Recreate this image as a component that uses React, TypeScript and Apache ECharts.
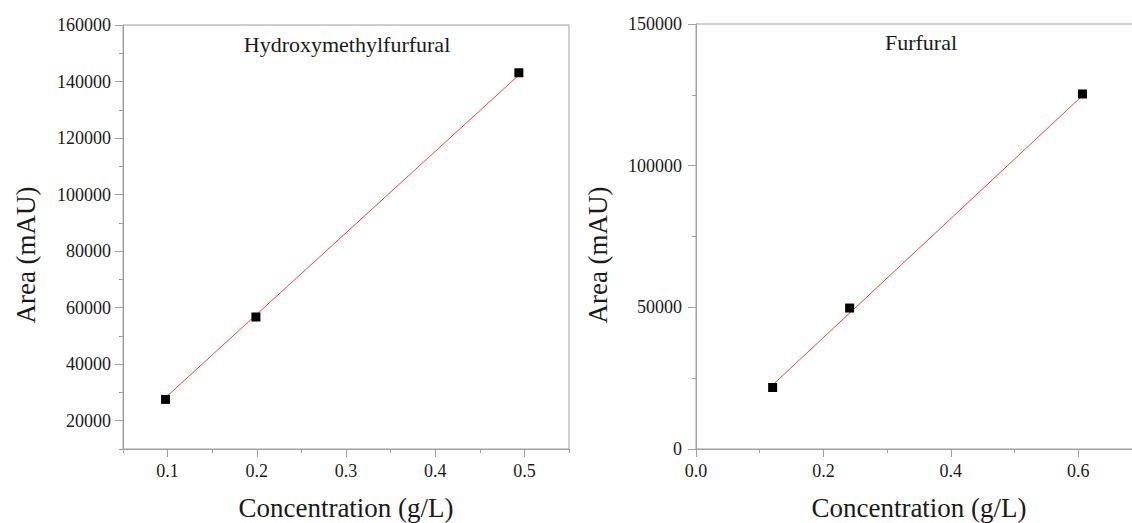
import React, { useEffect, useRef } from "react";
import * as echarts from "echarts";

// Hydroxymethylfurfural calibration
const hmfConc = [0.0977, 0.199, 0.4938];
const hmfArea = [27550, 56700, 143100];
const hmfFitConc = [0.0977, 0.4938];
const hmfFitArea = [28200, 142300];

// Furfural calibration
const furConc = [0.1203, 0.2411, 0.6065];
const furArea = [21700, 49750, 125300];
const furFitConc = [0.1203, 0.6065];
const furFitArea = [22600, 124700];

// Tick values
const hmfXMajor = [0.1, 0.2, 0.3, 0.4, 0.5];
const hmfXMinor = [0.05, 0.15, 0.25, 0.35, 0.45, 0.55];
const hmfYMajor = [20000, 40000, 60000, 80000, 100000, 120000, 140000, 160000];
const hmfYMinor = [10000, 30000, 50000, 70000, 90000, 110000, 130000, 150000];
const furXMajor = [0, 0.2, 0.4, 0.6];
const furXMinor = [0.1, 0.3, 0.5, 0.7];
const furYMajor = [0, 50000, 100000, 150000];
const furYMinor = [25000, 75000, 125000];

const FONT = "'Liberation Serif', 'Times New Roman', serif";
const AXIS_COLOR = "#a0a0a0";
const TEXT_COLOR = "#1a1a1a";

function zip(a: number[], b: number[]) {
  return a.map((v, i) => [v, b[i]]);
}

function majorX(gridIndex: number, min: number, max: number, ticks: number[], name: string) {
  return {
    type: "value",
    gridIndex,
    position: "bottom",
    min,
    max,
    name,
    nameLocation: "middle",
    nameGap: 45,
    nameTextStyle: { fontFamily: FONT, fontSize: 27, color: TEXT_COLOR },
    axisLine: { show: true, onZero: false, lineStyle: { color: AXIS_COLOR, width: 1 } },
    axisTick: { show: true, customValues: ticks, length: 8, lineStyle: { color: AXIS_COLOR } },
    axisLabel: {
      show: true,
      customValues: ticks,
      margin: 13,
      fontFamily: FONT,
      fontSize: 18,
      color: TEXT_COLOR,
      formatter: (v: number) => v.toFixed(1),
    },
    splitLine: { show: false },
  };
}

function minorX(gridIndex: number, min: number, max: number, ticks: number[]) {
  return {
    type: "value",
    gridIndex,
    position: "bottom",
    min,
    max,
    axisLine: { show: false, onZero: false },
    axisTick: { show: true, customValues: ticks, length: 4, lineStyle: { color: AXIS_COLOR } },
    axisLabel: { show: false },
    splitLine: { show: false },
  };
}

function majorY(gridIndex: number, min: number, max: number, ticks: number[], margin: number) {
  return {
    type: "value",
    gridIndex,
    position: "left",
    min,
    max,
    axisLine: { show: true, onZero: false, lineStyle: { color: AXIS_COLOR, width: 1 } },
    axisTick: { show: true, customValues: ticks, length: 8, lineStyle: { color: AXIS_COLOR } },
    axisLabel: {
      show: true,
      customValues: ticks,
      margin,
      fontFamily: FONT,
      fontSize: 18,
      color: TEXT_COLOR,
      formatter: (v: number) => String(v),
    },
    splitLine: { show: false },
  };
}

function minorY(gridIndex: number, min: number, max: number, ticks: number[]) {
  return {
    type: "value",
    gridIndex,
    position: "left",
    min,
    max,
    axisLine: { show: false, onZero: false },
    axisTick: { show: true, customValues: ticks, length: 4, lineStyle: { color: AXIS_COLOR } },
    axisLabel: { show: false },
    splitLine: { show: false },
  };
}

export default function App() {
  const ref = useRef<HTMLDivElement>(null);

  useEffect(() => {
    if (!ref.current) return;
    const chart = echarts.init(ref.current, null, { renderer: "svg" });
    const option: any = {
      animation: false,
      backgroundColor: "#ffffff",
      grid: [
        { left: 123, top: 25, width: 446, height: 424, show: true, borderColor: AXIS_COLOR, borderWidth: 1, backgroundColor: "transparent", outerBoundsMode: "none", containLabel: false },
        { left: 696, top: 24, width: 446, height: 425, show: true, borderColor: AXIS_COLOR, borderWidth: 1, backgroundColor: "transparent", outerBoundsMode: "none", containLabel: false },
      ],
      xAxis: [
        majorX(0, 0.05, 0.55, hmfXMajor, "Concentration (g/L)"),
        minorX(0, 0.05, 0.55, hmfXMinor),
        majorX(1, 0, 0.7, furXMajor, "Concentration (g/L)"),
        minorX(1, 0, 0.7, furXMinor),
      ],
      yAxis: [
        majorY(0, 10000, 160000, hmfYMajor, 12),
        minorY(0, 10000, 160000, hmfYMinor),
        majorY(1, 0, 150000, furYMajor, 14),
        minorY(1, 0, 150000, furYMinor),
      ],
      graphic: [
        {
          type: "text",
          x: 347,
          y: 44,
          style: { text: "Hydroxymethylfurfural", font: `22px ${FONT}`, fill: TEXT_COLOR, textAlign: "center", textVerticalAlign: "middle" },
        },
        {
          type: "text",
          x: 921,
          y: 42,
          style: { text: "Furfural", font: `22px ${FONT}`, fill: TEXT_COLOR, textAlign: "center", textVerticalAlign: "middle" },
        },
        {
          type: "text",
          x: 26,
          y: 255,
          rotation: Math.PI / 2,
          style: { text: "Area (mAU)", font: `27px ${FONT}`, fill: TEXT_COLOR, textAlign: "center", textVerticalAlign: "middle" },
        },
        {
          type: "text",
          x: 598,
          y: 255,
          rotation: Math.PI / 2,
          style: { text: "Area (mAU)", font: `27px ${FONT}`, fill: TEXT_COLOR, textAlign: "center", textVerticalAlign: "middle" },
        },
      ],
      series: [
        {
          type: "line",
          xAxisIndex: 0,
          yAxisIndex: 0,
          data: zip(hmfFitConc, hmfFitArea),
          showSymbol: false,
          symbol: "none",
          lineStyle: { color: "#ff3b3b", width: 1 },
          z: 2,
        },
        {
          type: "scatter",
          xAxisIndex: 0,
          yAxisIndex: 0,
          data: zip(hmfConc, hmfArea),
          symbol: "rect",
          symbolSize: 9,
          itemStyle: { color: "#000000", opacity: 1 },
          z: 3,
        },
        {
          type: "line",
          xAxisIndex: 2,
          yAxisIndex: 2,
          data: zip(furFitConc, furFitArea),
          showSymbol: false,
          symbol: "none",
          lineStyle: { color: "#ff3b3b", width: 1 },
          z: 2,
        },
        {
          type: "scatter",
          xAxisIndex: 2,
          yAxisIndex: 2,
          data: zip(furConc, furArea),
          symbol: "rect",
          symbolSize: 9,
          itemStyle: { color: "#000000", opacity: 1 },
          z: 3,
        },
      ],
    };
    chart.setOption(option);
    return () => chart.dispose();
  }, []);

  return (
    <div
      ref={ref}
      style={{ position: "absolute", left: 0, top: 0, width: 1132, height: 523, overflow: "hidden" }}
    />
  );
}
